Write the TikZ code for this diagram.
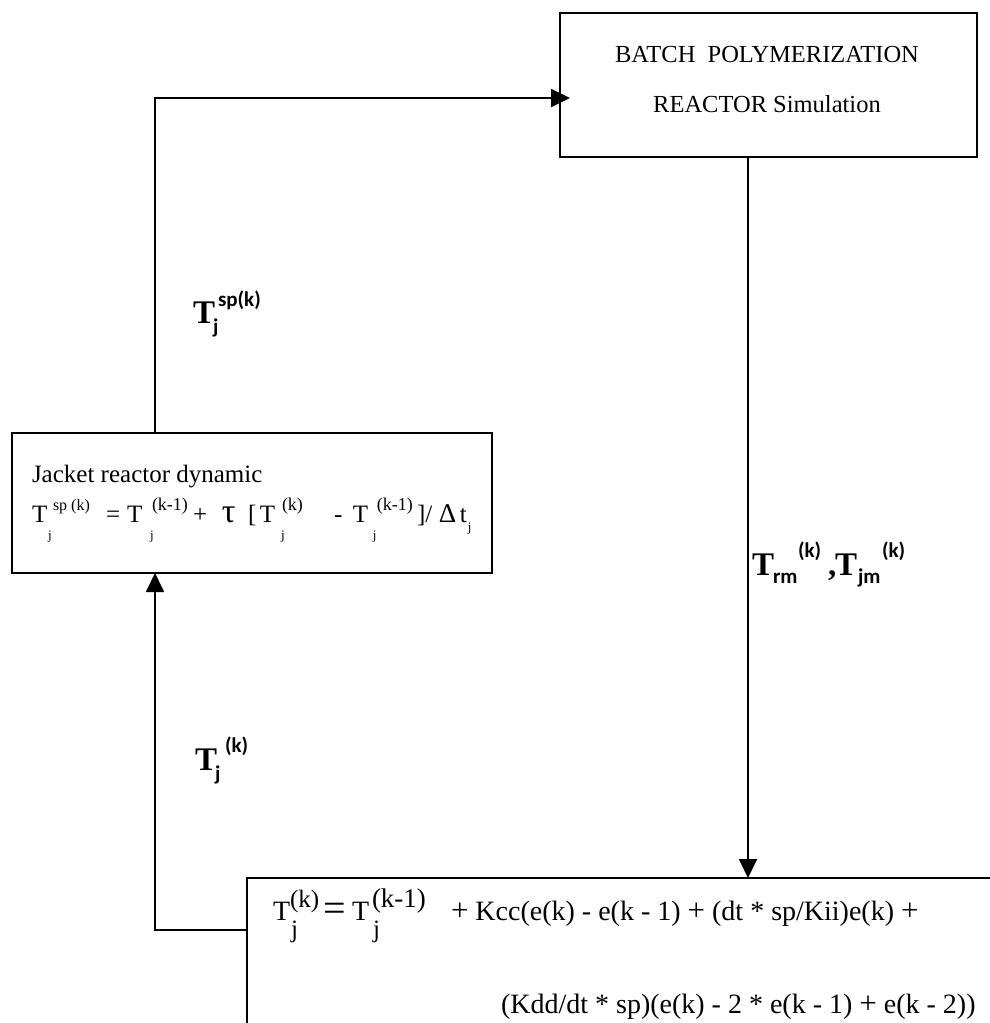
\documentclass[tikz,border=0pt]{standalone}
\usepackage{fontspec}
\setmainfont{Liberation Serif}
\newfontfamily\lblsans{Carlito}
\usetikzlibrary{arrows.meta}
\newcommand{\fsz}[1]{\fontsize{#1}{#1}\selectfont}
\newcommand{\putpiece}[3]{\rlap{\hspace*{#1pt}\raisebox{#2pt}{#3}}}
\newcommand{\bT}{{\fsz{33}\bfseries T}}
\newcommand{\bsc}[1]{{\lblsans\bfseries\fsz{21}#1}}
\newcommand{\mplus}{{\fsz{31}+}}
\begin{document}
\begin{tikzpicture}[x=1pt,y=-1pt,
  box/.style={draw, line width=1.8pt, inner sep=0pt, outer sep=0pt, anchor=north west},
  txt/.style={inner sep=0pt, outer sep=0pt},
  conn/.style={line width=1.8pt},
  arr/.style={conn, -{Triangle[length=19pt,width=18pt]}},
]
\useasboundingbox (0,0) rectangle (990,1023);

% boxes
\node[box, minimum width=417pt, minimum height=144pt] (sim) at (560,13) {};
\node[box, minimum width=480pt, minimum height=140pt] (jacket) at (12,433) {};
\node[box, minimum width=780pt, minimum height=170pt] (pid) at (247,878) {};

% texts in boxes
\node[txt, anchor=base] (simt1) at (767,62) {\fsz{24.5}BATCH\ \ POLYMERIZATION};
\node[txt, anchor=base] (simt2) at (767,112) {\fsz{24.5}REACTOR Simulation};
\node[txt, anchor=base west] (jtitle) at (32,482) {\fsz{25}Jacket reactor dynamic};

\node[txt, anchor=base west] (jeq) at (32,522) {\fsz{25}%
\putpiece{0}{0}{T}%
\putpiece{16}{-17}{\fsz{13}j}%
\putpiece{21}{12}{\fsz{16}sp (k)}%
\putpiece{74}{0}{=}%
\putpiece{95}{0}{T}%
\putpiece{118}{-17}{\fsz{13}j}%
\putpiece{120}{12}{\fsz{18}(k-1)}%
\putpiece{161}{0}{+}%
\putpiece{190}{0}{\fsz{34}τ}%
\putpiece{216}{0}{[}%
\putpiece{228}{0}{T}%
\putpiece{249}{-17}{\fsz{13}j}%
\putpiece{250}{12}{\fsz{18}(k)}%
\putpiece{302}{0}{-}%
\putpiece{321}{0}{T}%
\putpiece{341}{-17}{\fsz{13}j}%
\putpiece{345}{12}{\fsz{18}(k-1)}%
\putpiece{385}{0}{]/}%
\putpiece{407}{0}{\fsz{27}Δ}%
\putpiece{428}{0}{t}%
\putpiece{436}{-9}{\fsz{13}j}%
\hspace*{445pt}};

\node[txt, anchor=base west] (peq1) at (273,920) {\fsz{28}%
\putpiece{0}{0}{T}%
\putpiece{17}{13}{\fsz{25}(k)}%
\putpiece{18}{-17}{\fsz{25}j}%
\putpiece{50}{-1}{\fsz{40}=}%
\putpiece{79}{0}{T}%
\putpiece{99}{13}{\fsz{27}(k-1)}%
\putpiece{100}{-17}{\fsz{25}j}%
\putpiece{178}{0}{\mplus\ Kcc(e(k) - e(k - 1) \mplus\ (dt * sp/Kii)e(k) \mplus}%
\hspace*{660pt}};

\node[txt, anchor=base west] (peq2) at (501,1013) {\fsz{28}(Kdd/dt * sp)(e(k) - 2 * e(k - 1) \mplus\ e(k - 2))};

% connector labels
\node[txt, anchor=base west] (lsp) at (193,323) {%
\putpiece{0}{0}{\bT}%
\putpiece{20}{-10}{\bsc{j}}%
\putpiece{25}{17}{\bsc{sp(k)}}%
\hspace*{70pt}};

\node[txt, anchor=base west] (lk) at (195,770) {%
\putpiece{0}{0}{\bT}%
\putpiece{20}{-10}{\bsc{j}}%
\putpiece{30}{18}{\bsc{(k)}}%
\hspace*{53pt}};

\node[txt, anchor=base west] (lrm) at (752,575) {%
\putpiece{0}{0}{\bT}%
\putpiece{21}{-8}{\bsc{rm}}%
\putpiece{46}{18}{\bsc{(k)}}%
\putpiece{76}{0}{{\fsz{33}\bfseries ,}}%
\putpiece{83}{0}{\bT}%
\putpiece{106}{-8}{\bsc{jm}}%
\putpiece{130}{18}{\bsc{(k)}}%
\hspace*{155pt}};

% connectors
\coordinate (ctop) at (155,98);
\coordinate (cbot) at (155,930);
\coordinate (cmid) at (748,0);
\draw[arr, shorten >=-10pt] (jacket.north -| ctop) |- (sim.west |- ctop);
\draw[arr] (sim.south -| cmid) -- (pid.north -| cmid);
\draw[arr] (pid.west |- cbot) -| (jacket.south -| cbot);
\end{tikzpicture}
\end{document}
